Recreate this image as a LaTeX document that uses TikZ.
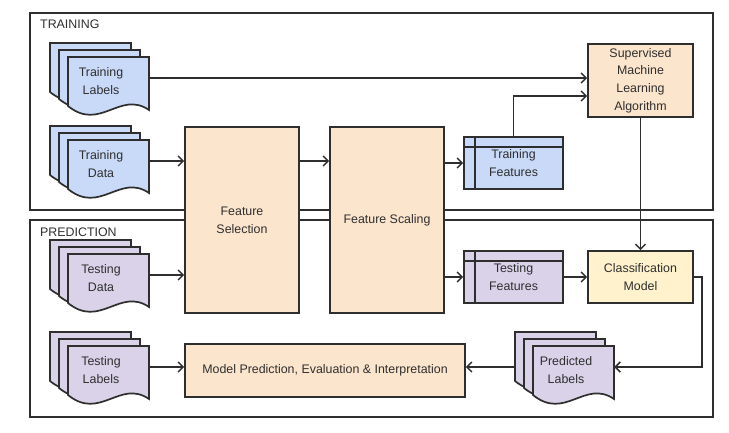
\documentclass[tikz,border=0pt]{standalone}
\usepackage{fontspec}
\setmainfont{Liberation Sans}
\usetikzlibrary{arrows.meta}
\definecolor{lblue}{HTML}{C9DAF8}
\definecolor{lpurple}{HTML}{D9D2E9}
\definecolor{lorange}{HTML}{FCE5CD}
\definecolor{lyellow}{HTML}{FFF2CC}
\definecolor{linec}{HTML}{2E2E2E}
\tikzset{
  txt/.style={font=\fontsize{12.4}{17.8}\selectfont, text=linec, align=center, inner sep=0pt},
  sheetline/.style={draw=linec, line width=1.7pt, line join=miter},
  boxnode/.style={txt, draw=linec, line width=1.7pt},
  storenode/.style={boxnode, path picture={
      \draw[linec, line width=1.5pt] ([xshift=11pt]path picture bounding box.north west) -- ([xshift=11pt]path picture bounding box.south west);
      \draw[linec, line width=1.5pt] ([yshift=-10pt]path picture bounding box.north west) -- ([yshift=-10pt]path picture bounding box.north east);}},
  framenode/.style={draw=linec, line width=1.8pt, inner sep=0pt},
  arr/.style={draw=linec, line width=1.5pt, -{Straight Barb[length=5pt,width=10pt,line width=1.5pt]}},
  hidden/.style={inner sep=0pt}
}
\newcommand{\mysheet}[3]{%
  \filldraw[fill=#3, sheetline] ({#1},{#2}) -- ({#1+81},{#2}) -- ({#1+81},{#2+53})
    .. controls ({#1+52},{#2+33}) and ({#1+32},{#2+75}) .. ({#1},{#2+49}) -- cycle;}
\newcommand{\mydocstack}[5]{%
  \mysheet{#2-18}{#3-14}{#4}
  \mysheet{#2-9}{#3-7}{#4}
  \mysheet{#2}{#3}{#4}
  \node[hidden, minimum width=99pt, minimum height=30pt] (#1) at ({#2+31.5},{#3+21}) {};
  \node[txt] (#1t) at ({#2+33},{#3+24}) {#5};}
\begin{document}
\begin{tikzpicture}[x=1pt, y=-1pt]
\useasboundingbox (0,0) rectangle (729,433);
% frames
\node[framenode, minimum width=683pt, minimum height=197pt] (trainframe) at (371.5,111.5) {};
\node[framenode, minimum width=683pt, minimum height=197pt] (predframe) at (371.5,318.5) {};
\node[txt, anchor=west] (trainlbl) at (40,24) {TRAINING};
\node[txt, anchor=west] (predlbl) at (40,232) {PREDICTION};
% document stacks
\mydocstack{tl}{68}{57}{lblue}{Training\\Labels}
\mydocstack{td}{68}{140}{lblue}{Training\\Data}
\mydocstack{ted}{68}{254}{lpurple}{Testing\\Data}
\mydocstack{tel}{68}{346}{lpurple}{Testing\\Labels}
\mydocstack{pl}{533}{346}{lpurple}{Predicted\\Labels}
% process boxes
\node[boxnode, fill=lorange, minimum width=114pt, minimum height=186pt] (fsel) at (242,220) {Feature\\Selection};
\node[boxnode, fill=lorange, minimum width=114pt, minimum height=186pt] (fsc) at (387,220) {Feature Scaling};
\node[storenode, fill=lblue, minimum width=99pt, minimum height=52pt] (trf) at (513.5,163) {Training\\Features};
\node[storenode, fill=lpurple, minimum width=99pt, minimum height=52pt] (tef) at (513.5,277) {Testing\\Features};
\node[boxnode, fill=lorange, minimum width=105pt, minimum height=73pt] (sml) at (640.5,80.5) {Supervised\\Machine\\Learning\\Algorithm};
\node[boxnode, fill=lyellow, minimum width=105pt, minimum height=52pt] (cm) at (640.5,277) {Classification\\Model};
\node[boxnode, fill=lorange, minimum width=280pt, minimum height=53pt] (mp) at (325,370.5) {Model Prediction, Evaluation \& Interpretation};
% connectors
\draw[arr] (tl.east) -- (tl.east -| sml.west);
\draw[arr] (trf.north) |- ([yshift=-15.5pt]sml.west);
\draw[arr] (td.east) -- (td.east -| fsel.west);
\draw[arr] (fsel.east |- td.east) -- (fsc.west |- td.east);
\draw[arr] (fsc.east |- trf.west) -- (trf.west);
\draw[arr] (sml.south) -- (cm.north);
\draw[arr] (ted.east) -- (ted.east -| fsel.west);
\draw[arr] (fsc.east |- tef.west) -- (tef.west);
\draw[arr] (tef.east) -- (cm.west);
\draw[arr] (cm.east) -- ++(8,0) |- (pl.east);
\draw[arr] (pl.west) -- (pl.west -| mp.east);
\draw[arr] (tel.east) -- (tel.east -| mp.west);
\end{tikzpicture}
\end{document}
